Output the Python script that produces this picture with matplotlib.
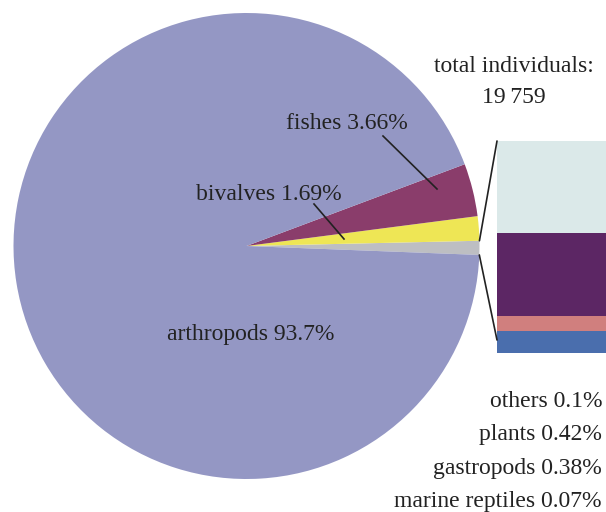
import numpy as np
import matplotlib
matplotlib.use("Agg")
import matplotlib.pyplot as plt
from matplotlib.patches import ConnectionPatch

plt.rcParams['font.family'] = ['Liberation Serif', 'DejaVu Serif']

# pie data (%)
pie_labels = ['others', 'bivalves', 'fishes', 'arthropods']
pie_values = [None, 1.69, 3.66, 93.7]
pie_colors = ['#bdbec2', '#eee655', '#8a3d6b', '#9497c4']

# breakdown of the small grey slice (%), stacked bottom -> top
bar_labels = ['others', 'marine reptiles', 'gastropods', 'plants']
bar_values = [0.1, 0.07, 0.38, 0.42]
bar_colors = ['#4a6ead', '#d07f7e', '#5c2664', '#dbe9e9']

# legend text on the right (as printed)
right_text = ['others 0.1%', 'plants 0.42%', 'gastropods 0.38%', 'marine reptiles 0.07%']
total_n = '19\u2009759'

pie_values[0] = sum(bar_values)

W, H = 606, 512
fig = plt.figure(figsize=(W / 100, H / 100), dpi=100)
ax = fig.add_axes([0, 0, 1, 1])
ax.set_xlim(0, W)
ax.set_ylim(0, H)
ax.axis('off')


def px(x, y):
    # pixel position (top-left origin) -> data coords
    return x, H - y


cx, cy = px(246.5, 246)
r = 233
start = -2.2
wedges, _ = ax.pie(pie_values, colors=pie_colors, startangle=start, radius=r,
                   center=(cx, cy), counterclock=True,
                   wedgeprops=dict(linewidth=0))
ax.set_xlim(0, W)
ax.set_ylim(0, H)
ax.set_aspect('equal')

# labels on the pie
ax.text(*px(347, 129), 'fishes 3.66%', fontsize=17, ha='center', va='baseline', color='#222222')
ax.text(*px(269, 200), 'bivalves 1.69%', fontsize=17, ha='center', va='baseline', color='#222222')
ax.text(*px(250.5, 340), 'arthropods 93.7%', fontsize=17, ha='center', va='baseline', color='#222222')
ax.plot(*zip(px(383, 136), px(437, 189)), color='#222222', lw=1.2)
ax.plot(*zip(px(314, 204), px(344, 239)), color='#222222', lw=1.2)

ax.text(*px(514, 72), 'total individuals:', fontsize=17, ha='center', va='baseline', color='#222222')
ax.text(*px(514, 103), total_n, fontsize=17, ha='center', va='baseline', color='#222222')

for i, t in enumerate(right_text):
    ax.text(*px(602, 407 + i * 33.4), t, fontsize=17, ha='right', va='baseline', color='#222222')

# stacked bar for the grey slice
bx0, bx1, by0, by1 = 497, 620, 141, 352.7
bax = fig.add_axes([bx0 / W, (H - by1) / H, (bx1 - bx0) / W, (by1 - by0) / H])
bottom = 0
for v, c in zip(bar_values, bar_colors):
    bax.bar(0.5, v, width=1, bottom=bottom, color=c, linewidth=0)
    bottom += v
bax.set_xlim(0, 1)
bax.set_ylim(0, sum(bar_values))
bax.axis('off')

# connector lines from grey slice to bar
a1 = np.deg2rad(start)
a2 = np.deg2rad(start + 360 * pie_values[0] / sum(pie_values))
for ang, yb in [(a2, 1.0), (a1, 0.06)]:
    con = ConnectionPatch(xyA=(cx + r * np.cos(ang), cy + r * np.sin(ang)), coordsA=ax.transData,
                          xyB=(0, yb), coordsB=bax.transAxes, color='#222222', lw=1.2)
    fig.add_artist(con)

fig.savefig('out.png', dpi=100)
